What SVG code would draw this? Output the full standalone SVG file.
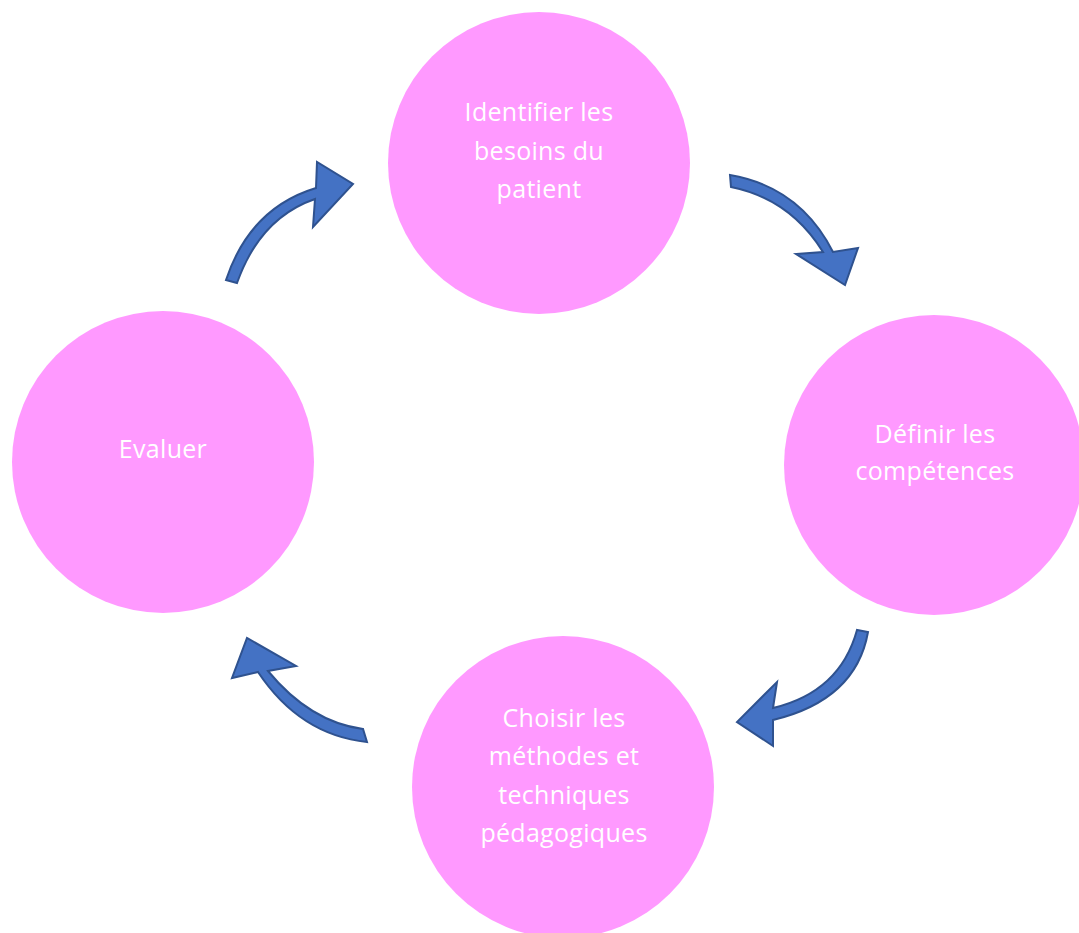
<svg xmlns="http://www.w3.org/2000/svg" width="1079" height="933" viewBox="0 0 1079 933">
<style>
.node{fill:#FF99FF;}
.lbl{font-family:"Open Sans","Liberation Sans",sans-serif;font-size:25px;letter-spacing:0.3px;fill:#FFFFFF;text-anchor:middle;}
.arr{fill:#4472C4;stroke:#2F528F;stroke-width:2;stroke-linejoin:miter;}
</style>
<rect width="1079" height="933" fill="#FFFFFF"/>
<g id="n1">
<circle class="node" cx="539" cy="163" r="151"/>
<text class="lbl" x="539" y="121">Identifier les</text>
<text class="lbl" x="539" y="160">besoins du</text>
<text class="lbl" x="539" y="198">patient</text>
</g>
<g id="n2">
<circle class="node" cx="934" cy="465" r="150"/>
<text class="lbl" x="935" y="443">Définir les</text>
<text class="lbl" x="935" y="480">compétences</text>
</g>
<g id="n3">
<circle class="node" cx="563" cy="787" r="151"/>
<text class="lbl" x="564" y="727">Choisir les</text>
<text class="lbl" x="564" y="765">méthodes et</text>
<text class="lbl" x="564" y="804">techniques</text>
<text class="lbl" x="564" y="842">pédagogiques</text>
</g>
<g id="n4">
<circle class="node" cx="163" cy="462" r="151"/>
<text class="lbl" x="163" y="458">Evaluer</text>
</g>
<g id="connectors">
<path class="arr" d="M 226,280 Q 250,208 316,188 L 317,162 L 353,184 L 313,227 L 315,199 Q 260,218 237,283 Z"/>
<path class="arr" d="M 730,175 Q 800,187 833,252 L 858,248 L 845,285 L 796,254 L 823,252 Q 790,199 731,187 Z"/>
<path class="arr" d="M 857,630 Q 840,692 773,708 L 777,682 L 737,722 L 773,746 L 773,720 Q 856,700 868,632 Z"/>
<path class="arr" d="M 258,672 Q 300,735 367,742 L 363,729 Q 310,722 268,671 L 296,666 L 247,638 L 232,678 Z"/>
</g>
</svg>
